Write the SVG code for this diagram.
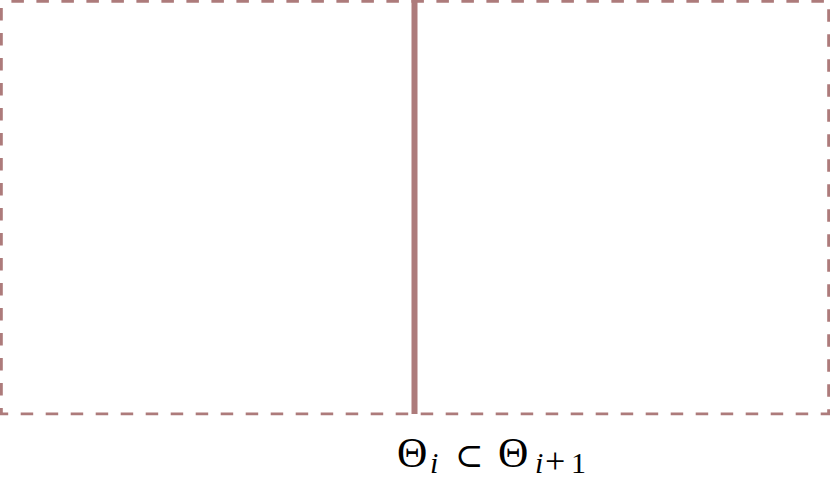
<svg xmlns="http://www.w3.org/2000/svg" width="830" height="489" viewBox="0 0 830 489">
<style>
.frame{fill:none;stroke:#ad7b7b;stroke-width:2.8;stroke-dasharray:12.5 12.5}
.div{stroke:#ad7b7b;stroke-width:6}
.lbl{font-family:"Liberation Serif","DejaVu Serif",serif;fill:#000}
.sub{font-size:30px}
</style>
<rect width="830" height="489" fill="#fff"/>
<g id="regions">
<rect class="frame" x="1.4" y="1.4" width="827.2" height="412.4" stroke-dashoffset="-10"/>
</g>
<g id="connectors">
<line class="div" x1="414.5" y1="0" x2="414.5" y2="414"/>
</g>
<g id="label">
<text class="lbl" font-size="42" y="467"><tspan x="397">Θ</tspan><tspan class="sub" font-style="italic" x="430" y="473">i</tspan><tspan x="455" y="467" font-size="34" font-family="DejaVu Serif, serif">⊂</tspan><tspan x="498">Θ</tspan><tspan class="sub" font-style="italic" x="535" y="473">i</tspan><tspan x="545" font-size="36">+</tspan><tspan class="sub" x="571">1</tspan></text>
</g>
</svg>
